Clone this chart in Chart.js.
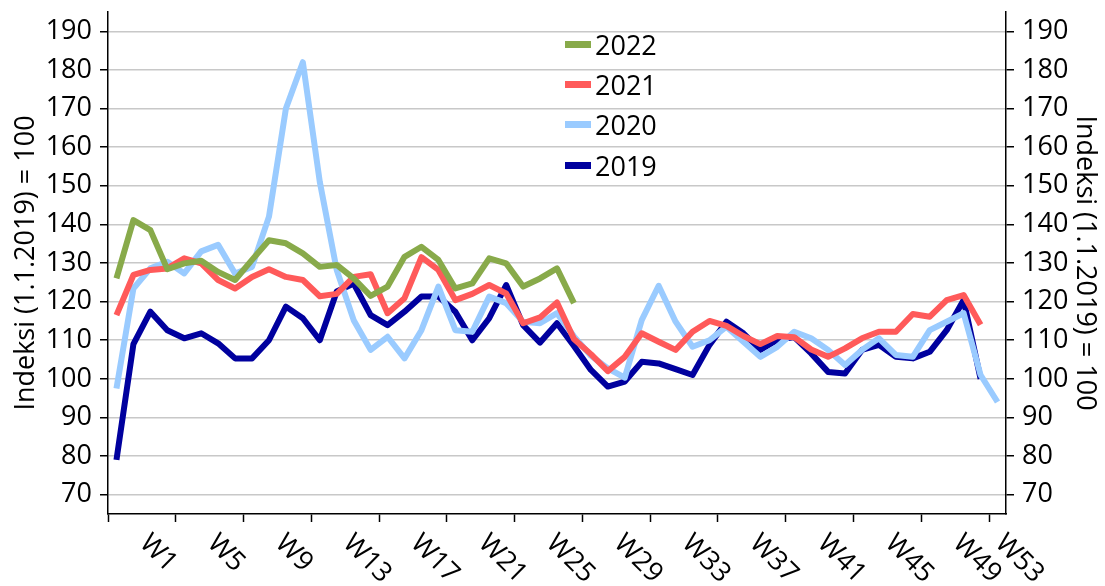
<!DOCTYPE html>
<html>
<head>
<meta charset="utf-8">
<script src="https://cdn.jsdelivr.net/npm/chart.js@4.4.0/dist/chart.umd.min.js"></script>
<style>
  body { margin: 0; background: #fff; }
  #wrap { position: relative; width: 1105px; height: 586px; }
  #legend { position: absolute; left: 565px; top: 24px; font: 27px "Open Sans", sans-serif; color: #000; }
  #legend .row { display: flex; align-items: center; height: 40.3px; }
  #legend .sw { width: 26px; height: 7px; margin-right: 4px; }
</style>
</head>
<body>
<div id="wrap">
  <canvas id="chart" width="1105" height="586"></canvas>
  <div id="legend"></div>
</div>
<script>
// 주차 (W1 ~ W53)
const weeks = Array.from({ length: 53 }, (_, i) => i + 1);
const weekLabels = ['W1', 'W5', 'W9', 'W13', 'W17', 'W21', 'W25', 'W29', 'W33', 'W37', 'W41', 'W45', 'W49', 'W53'];
const yTicks = [70, 80, 90, 100, 110, 120, 130, 140, 150, 160, 170, 180, 190];

// 연도별 지수 (1.1.2019 = 100)
const values2022 = [126, 141.1, 138.5, 128.4, 129.9, 130.6, 127.7, 125.6, 130.8, 135.9,
  135.1, 132.5, 129, 129.5, 126, 121.5, 123.9, 131.6, 134.2, 130.8,
  123.4, 124.7, 131.2, 129.9, 123.9, 126, 128.6, 119.6];
const values2021 = [116.5, 126.9, 128.2, 128.6, 131.2, 129.9, 125.6, 123.4, 126.4, 128.4,
  126.4, 125.6, 121.4, 122, 126.4, 127.1, 117, 120.9, 131.5, 128.2,
  120.4, 122, 124.3, 122.1, 114.4, 115.9, 119.8, 110.3, 106.4, 102,
  105.7, 111.8, 109.6, 107.5, 112.2, 115, 113.7, 111.1, 109, 111.1,
  110.8, 107.6, 105.7, 107.9, 110.5, 112.2, 112.2, 116.8, 116.1, 120.4,
  121.7, 114];
const values2020 = [97.5, 123.4, 128.6, 130.3, 127.3, 133, 134.7, 127.3, 129, 142,
  170, 182, 151, 128.2, 115.2, 107.5, 110.9, 105.3, 112.6, 123.9,
  112.6, 112.2, 121.3, 119.6, 114.8, 114.4, 117, 111, 106, 102.7,
  100.3, 115.2, 124.1, 114.8, 108.3, 110, 113.5, 109.6, 105.7, 108.3,
  112.2, 110.5, 107.5, 103.6, 107.5, 110.5, 106.2, 105.7, 112.6, 114.8,
  117, 101, 94];
const values2019 = [79, 109, 117.4, 112.6, 110.5, 111.8, 109.2, 105.3, 105.3, 110,
  118.7, 115.7, 110, 122.6, 124.7, 116.5, 113.9, 117.4, 121.3, 121.3,
  117.4, 110, 115.7, 124.3, 113.9, 109.4, 114.4, 108.5, 102.3, 98,
  99.3, 104.4, 104, 102.5, 101, 108.8, 114.8, 111.8, 107.5, 110.1,
  110.8, 106.6, 101.8, 101.4, 107.5, 108.8, 105.7, 105.3, 107, 112.6,
  120.4, 100];

const seriesNames = ['2022', '2021', '2020', '2019'];
const seriesColors = ['#88AA4A', '#FF5A5A', '#9ACBFF', '#00009E'];
const seriesValues = [values2022, values2021, values2020, values2019];

const AXIS_TITLE = 'Indeksi (1.1.2019) = 100';

Chart.defaults.font.family = '"Open Sans", sans-serif';
Chart.defaults.font.size = 27;
Chart.defaults.color = '#000';

// 회전된 주차 라벨 (4주 묶음의 가운데)
const weekLabelPlugin = {
  id: 'weekLabels',
  afterDraw(chart) {
    const xs = chart.scales.x;
    const ctx = chart.ctx;
    ctx.save();
    ctx.font = '27px "Open Sans", sans-serif';
    ctx.fillStyle = '#000';
    ctx.textAlign = 'left';
    ctx.textBaseline = 'middle';
    weekLabels.forEach((label) => {
      const start = parseInt(label.slice(1));
      const end = Math.min(start + 3, weeks.length);
      const px = xs.getPixelForValue((start + end) / 2);
      ctx.save();
      ctx.translate(px + 2, xs.top + 25);
      ctx.rotate(Math.PI / 4);
      ctx.fillText(label, 0, 0);
      ctx.restore();
    });
    ctx.restore();
  },
};

function yAxis(position, width, titlePad) {
  return {
    position: position,
    min: 65,
    max: 195,
    afterBuildTicks: (scale) => {
      scale.ticks = yTicks.map((v) => ({ value: v }));
    },
    afterFit: (scale) => {
      scale.width = width;
      scale.paddingTop = 0;
      scale.paddingBottom = 0;
    },
    border: { color: '#000', width: 1.5 },
    grid: {
      drawOnChartArea: position === 'left',
      color: '#c8c8c8',
      lineWidth: 1.5,
      tickColor: '#000',
      tickLength: 8,
      tickWidth: 1.5,
    },
    ticks: { padding: 8 },
    title: { display: true, text: AXIS_TITLE, padding: { top: titlePad, bottom: 0 } },
  };
}

const ctx = document.getElementById('chart');
new Chart(ctx.getContext('2d'), {
  type: 'line',
  data: {
    labels: weeks,
    datasets: seriesNames.map((name, i) => ({
      label: name,
      data: seriesValues[i],
      borderColor: seriesColors[i],
      backgroundColor: seriesColors[i],
      borderWidth: 6,
      pointRadius: 0,
      tension: 0,
      fill: false,
      borderJoinStyle: 'round',
    })),
  },
  options: {
    responsive: false,
    animation: false,
    layout: { padding: { top: 12, left: 0, right: 0, bottom: 0 } },
    plugins: {
      legend: { display: false },
      tooltip: { enabled: false },
    },
    scales: {
      x: {
        type: 'linear',
        position: 'bottom',
        min: 0.5,
        max: 53.5,
        afterBuildTicks: (scale) => {
          scale.ticks = weekLabels.map((l) => ({ value: parseInt(l.slice(1)) - 0.5 }));
        },
        afterFit: (scale) => {
          scale.height = 72;
          scale.paddingLeft = 0;
          scale.paddingRight = 0;
        },
        border: { color: '#000', width: 1.5 },
        grid: { drawOnChartArea: false, tickColor: '#000', tickLength: 8, tickWidth: 1.5 },
        ticks: { display: false },
      },
      y: yAxis('left', 108, 10),
      y2: yAxis('right', 99, 4),
    },
  },
  plugins: [weekLabelPlugin],
});

// 범례 (HTML)
const legendEl = document.getElementById('legend');
seriesNames.forEach((name, i) => {
  const row = document.createElement('div');
  row.className = 'row';
  row.innerHTML = `<span class="sw" style="background:${seriesColors[i]}"></span><span>${name}</span>`;
  legendEl.appendChild(row);
});
</script>
</body>
</html>
